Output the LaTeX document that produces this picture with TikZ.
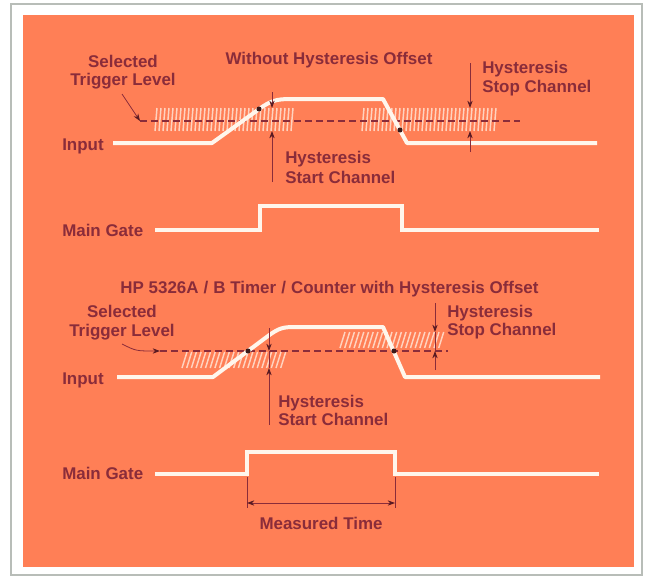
\documentclass[tikz,border=0pt]{standalone}
\usepackage{fontspec}
\setmainfont{Liberation Sans}
\usetikzlibrary{arrows.meta}
\definecolor{bgorange}{HTML}{FF7F56}
\definecolor{txtred}{HTML}{8A2C3A}
\definecolor{wave}{HTML}{FFF6EC}
\definecolor{hatchc}{HTML}{FFD3BF}
\definecolor{framec}{HTML}{B8BDB8}
\definecolor{dotc}{HTML}{3A1A1A}
\definecolor{tipc}{HTML}{5A1A22}
\begin{document}
\begin{tikzpicture}[x=0.75pt,y=-0.75pt,
 lbl/.style={inner sep=0pt, text=txtred, font=\fontsize{12.7}{14}\selectfont\bfseries},
 wavel/.style={draw=wave, line width=3pt, line join=round},
 gatel/.style={draw=wave, line width=3pt, line join=miter},
 trig/.style={draw=txtred, line width=0.8pt, dash pattern=on 5.25pt off 3pt},
 hat/.style={draw=hatchc, line width=1.1pt},
 dimline/.style={draw=txtred, line width=0.6pt},
 arr/.style={draw=txtred, line width=0.6pt, -{Stealth[length=5.5pt,width=4pt,color=tipc]}},
 dblarr/.style={draw=txtred, line width=0.6pt, {Stealth[length=5.5pt,width=4pt,color=tipc]}-{Stealth[length=5.5pt,width=4pt,color=tipc]}},
 dotm/.style={circle, fill=dotc, inner sep=0pt, minimum size=3.8pt}
]
\useasboundingbox (0,0) rectangle (649,578);
\fill[white] (0,0) rectangle (649,578);
\draw[framec, line width=1.1pt] (11,4) rectangle (642,575);
\fill[bgorange] (23,15) rectangle (634,567);

% ---------------- top panel ----------------
\node[lbl, anchor=base] (title1) at (329,64) {Without Hysteresis Offset};
\node[lbl, anchor=base] (sel1a) at (123,67) {Selected};
\node[lbl, anchor=base] (sel1b) at (123,85) {Trigger Level};
\node[lbl, anchor=base west] (in1) at (62,150) {Input};
\node[lbl, anchor=base west] (hs1a) at (285,163) {Hysteresis};
\node[lbl, anchor=base west] (hs1b) at (285,183) {Start Channel};
\node[lbl, anchor=base west] (hp1a) at (482,73) {Hysteresis};
\node[lbl, anchor=base west] (hp1b) at (482,92) {Stop Channel};
\node[lbl, anchor=base west] (mg1) at (62,236) {Main Gate};

% hatch bands
\foreach \x in {155,159,...,291} \draw[hat] (\x,131) -- (\x+2,108);
\foreach \x in {362,366,...,496} \draw[hat] (\x,131) -- (\x+2,108);

% trigger level
\coordinate (tl1s) at (140,121);
\coordinate (tl1e) at (520,121);
\draw[trig] (tl1s) -- (tl1e);
\coordinate (sel1arr) at (122,94);
\draw[arr] (sel1arr) -- (tl1s);

% input waveform
\draw[wavel] (113,143) -- (212,143) -- (262,107) .. controls (274,99) and (280,99) .. (295,99)
  -- (383,99) -- (407,143) -- (597,143);
\node[dotm] (d1a) at (259,109) {};
\node[dotm] (d1b) at (400,130) {};

% start channel arrows
\coordinate (sc1t) at (272,92);
\coordinate (sc1u) at (272,108);
\coordinate (sc1l) at (272,131);
\coordinate (sc1b) at (272,182);
\draw[arr] (sc1t) -- (sc1u);
\draw[arr] (sc1b) -- (sc1l);
% stop channel arrows
\coordinate (pc1t) at (470,63);
\coordinate (pc1u) at (470,108);
\coordinate (pc1l) at (470,131);
\coordinate (pc1b) at (470,152);
\draw[arr] (pc1t) -- (pc1u);
\draw[arr] (pc1b) -- (pc1l);

% main gate
\draw[gatel] (155,230) -- (260,230) -- (260,206) -- (402,206) -- (402,230) -- (599,230);

% ---------------- bottom panel ----------------
\node[lbl, anchor=base] (title2) at (329.5,293) {HP 5326A\hspace{0.3em}/\hspace{0.3em}B Timer\hspace{0.3em}/\hspace{0.3em}Counter with Hysteresis Offset};
\node[lbl, anchor=base] (sel2a) at (122,317) {Selected};
\node[lbl, anchor=base] (sel2b) at (122,336) {Trigger Level};
\node[lbl, anchor=base west] (in2) at (62,384) {Input};
\node[lbl, anchor=base west] (hs2a) at (278,407) {Hysteresis};
\node[lbl, anchor=base west] (hs2b) at (278,425) {Start Channel};
\node[lbl, anchor=base west] (hp2a) at (447,317) {Hysteresis};
\node[lbl, anchor=base west] (hp2b) at (447,335) {Stop Channel};
\node[lbl, anchor=base west] (mg2) at (62,479) {Main Gate};
\node[lbl, anchor=base] (mt) at (321,529) {Measured Time};

% hatch bands
\foreach \x in {182,186.7,...,282} \draw[hat] (\x,368) -- (\x+5,352);
\foreach \x in {340,344.7,...,440} \draw[hat] (\x,348) -- (\x+5,332);

% trigger level
\coordinate (tl2s) at (160,351);
\coordinate (tl2e) at (448,351);
\draw[trig] (tl2s) -- (tl2e);
\coordinate (sel2arr) at (122,344);
\draw[arr] (sel2arr) .. controls (136,351) .. (tl2s);

% input waveform
\draw[wavel] (117,377) -- (213,377) -- (268,336) .. controls (279,328) and (283,327) .. (295,327)
  -- (383,327) -- (405,377) -- (600,377);
\node[dotm] (d2a) at (248,351) {};
\node[dotm] (d2b) at (394,351) {};

% start channel arrows
\coordinate (sc2t) at (269,328);
\coordinate (sc2u) at (269,351);
\coordinate (sc2l) at (269,368);
\coordinate (sc2b) at (269,425);
\draw[arr] (sc2t) -- (sc2u);
\draw[dimline] (sc2u) -- (sc2l);
\draw[arr] (sc2b) -- (sc2l);
% stop channel arrows
\coordinate (pc2t) at (435,303);
\coordinate (pc2u) at (435,332);
\coordinate (pc2l) at (435,351);
\coordinate (pc2b) at (435,370);
\draw[arr] (pc2t) -- (pc2u);
\draw[dimline] (pc2u) -- (pc2l);
\draw[arr] (pc2b) -- (pc2l);

% main gate
\draw[gatel] (155,474) -- (247,474) -- (247,452) -- (395,452) -- (395,474) -- (599,474);
\coordinate (mts) at (247,477);
\coordinate (mte) at (395,477);
\coordinate (mtsb) at (247,508);
\coordinate (mteb) at (395,508);
\draw[dimline] (mts) -- (mtsb);
\draw[dimline] (mte) -- (mteb);
\coordinate (mta) at (247,503);
\coordinate (mtb) at (395,503);
\draw[dblarr] (mta) -- (mtb);
\end{tikzpicture}
\end{document}
